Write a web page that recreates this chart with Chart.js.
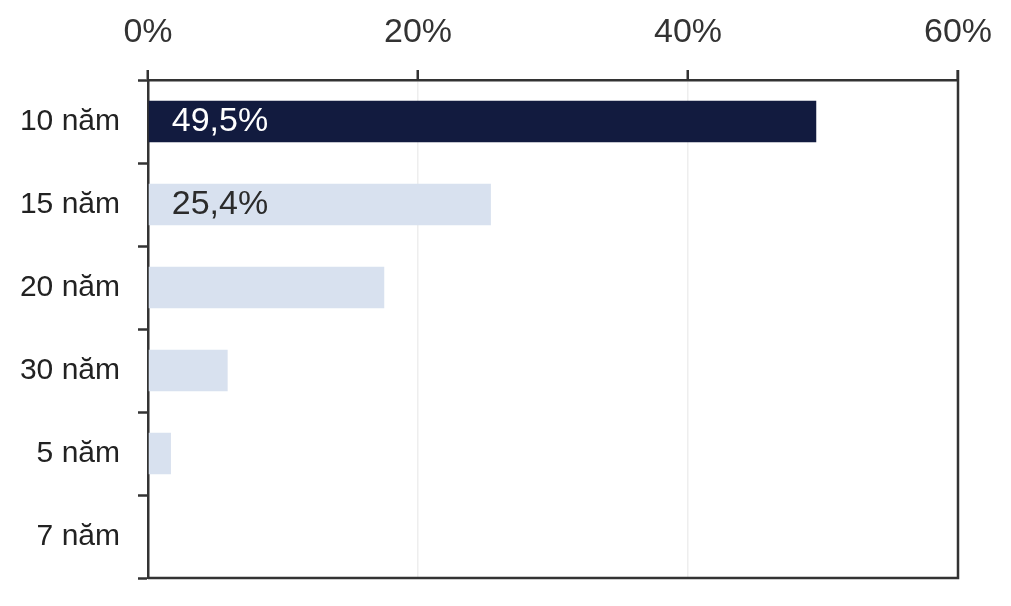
<!DOCTYPE html>
<html>
<head>
<meta charset="utf-8">
<script src="https://cdn.jsdelivr.net/npm/chart.js@4"></script>
<style>
  html, body { margin: 0; padding: 0; background: #fff; }
  #wrap { width: 1011px; height: 606px; }
</style>
</head>
<body>
<div id="wrap"><canvas id="myChart" width="1011" height="606"></canvas></div>
<script>
// chart data
const categories = ['10 năm', '15 năm', '20 năm', '30 năm', '5 năm', '7 năm'];
const shares = [49.5, 25.4, 17.5, 5.9, 1.7, 0];
const valueLabels = ['49,5%', '25,4%', '', '', '', ''];
const xTicks = [0, 20, 40, 60];

const barColors = ['#121b3f', '#d8e1ef', '#d8e1ef', '#d8e1ef', '#d8e1ef', '#d8e1ef'];
const labelColors = ['#ffffff', '#2b2b2b', '#2b2b2b', '#2b2b2b', '#2b2b2b', '#2b2b2b'];

const FONT = "'Liberation Sans', 'DejaVu Sans', sans-serif";

// draw the value text inside the bars
const barText = {
  id: 'barText',
  afterDatasetsDraw(chart) {
    const ctx = chart.ctx;
    const meta = chart.getDatasetMeta(0);
    ctx.save();
    ctx.font = '34px ' + FONT;
    ctx.textAlign = 'left';
    ctx.textBaseline = 'middle';
    meta.data.forEach((bar, i) => {
      if (!valueLabels[i]) return;
      ctx.fillStyle = labelColors[i];
      ctx.fillText(valueLabels[i], bar.base + 23, bar.y);
    });
    ctx.restore();
  }
};

// box around the plot area
const frame = {
  id: 'frame',
  afterDraw(chart) {
    const a = chart.chartArea;
    const ctx = chart.ctx;
    ctx.save();
    ctx.strokeStyle = '#333';
    ctx.lineWidth = 2.5;
    ctx.beginPath();
    ctx.moveTo(a.right, a.top - 10);
    ctx.lineTo(a.right, a.bottom);
    ctx.lineTo(a.left, a.bottom);
    ctx.stroke();
    ctx.restore();
  }
};

const ctx = document.getElementById('myChart').getContext('2d');
new Chart(ctx, {
  type: 'bar',
  data: {
    labels: categories,
    datasets: [{
      data: shares,
      backgroundColor: barColors,
      borderWidth: 0,
      barPercentage: 0.5,
      categoryPercentage: 1
    }]
  },
  options: {
    indexAxis: 'y',
    responsive: false,
    animation: false,
    layout: { padding: { left: 0, right: 53, top: 0, bottom: 28 } },
    plugins: {
      legend: { display: false },
      tooltip: { enabled: false }
    },
    scales: {
      x: {
        position: 'top',
        min: 0,
        max: 60,
        afterBuildTicks(scale) {
          scale.ticks = xTicks.map(v => ({ value: v }));
        },
        afterFit(scale) { scale.height = 80; },
        ticks: {
          color: '#333',
          padding: 17,
          font: { family: FONT, size: 34 },
          callback: v => v + '%'
        },
        grid: {
          color: '#eeeeee',
          lineWidth: 1.5,
          tickColor: '#333',
          tickLength: 10,
          tickWidth: 2.5
        },
        border: { display: true, color: '#333', width: 2.5 }
      },
      y: {
        afterFit(scale) {
          scale.width = 148;
          scale.paddingTop = 0;
          scale.paddingBottom = 0;
        },
        ticks: {
          color: '#222',
          padding: 18,
          font: { family: FONT, size: 30 }
        },
        grid: {
          drawOnChartArea: false,
          color: '#333',
          tickColor: '#333',
          tickLength: 10,
          tickWidth: 2.5,
          offset: true
        },
        border: { display: true, color: '#333', width: 2.5 }
      }
    }
  },
  plugins: [barText, frame]
});
</script>
</body>
</html>
